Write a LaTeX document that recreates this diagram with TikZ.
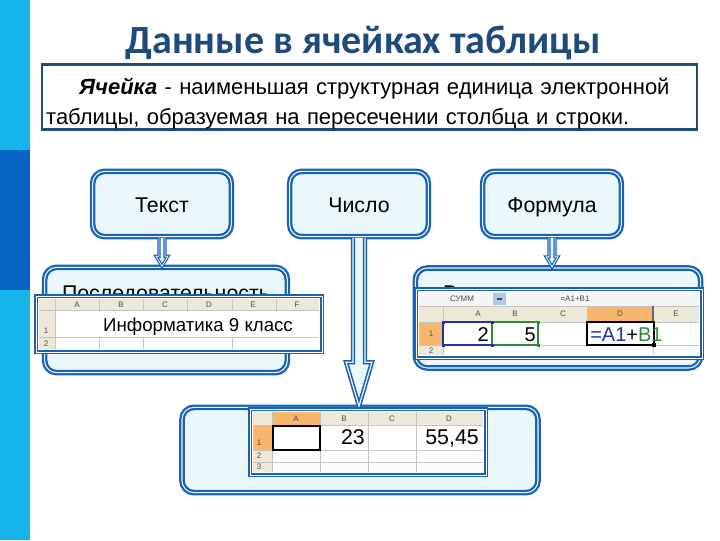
\documentclass[tikz,border=0pt]{standalone}
\usepackage{fontspec}
\setmainfont{Liberation Sans}
\newfontfamily\titlefont{Carlito}
\usetikzlibrary{calc,positioning}

\definecolor{stripcyan}{HTML}{16B5E9}
\definecolor{stripdark}{HTML}{0563C1}
\definecolor{titleblue}{HTML}{1F4A7C}
\definecolor{boxblue}{HTML}{1862B6}
\definecolor{boxfill}{HTML}{EAF8FC}
\definecolor{hdrbeige}{HTML}{ECE9D8}
\definecolor{hdrorange}{HTML}{F8B66C}
\definecolor{gridgray}{HTML}{C4C4C4}
\definecolor{selgreen}{HTML}{2E8B3A}
\definecolor{refblue}{HTML}{2432A8}

\begin{document}
\begin{tikzpicture}[x=0.75pt,y=-0.75pt,
  kind/.style={draw=boxblue,fill=boxfill,line width=1.7pt,double=boxfill,double distance=0.8pt,
    rounded corners=9pt,minimum width=104pt,minimum height=49pt,align=center,
    font=\fontsize{16}{19}\selectfont},
  topkind/.style={kind,text height=13pt,text depth=1pt},
  defbox/.style={draw=titleblue,fill=white,line width=1.9pt,minimum width=491pt,minimum height=49pt},
  deftext/.style={text width=472pt,inner sep=0pt,font=\fontsize{16.5}{22}\selectfont},
  pointer/.style={draw=boxblue,fill=boxfill,line width=0.9pt,double=boxfill,double distance=0.6pt},
  shot/.style={draw=boxblue,fill=white,line width=1.4pt,double=white,double distance=0.6pt},
  gline/.style={gridgray,line width=0.4pt},
  hdr/.style={font=\fontsize{6}{7}\selectfont,text=black!70,inner sep=0pt},
  cell/.style={font=\fontsize{15}{18}\selectfont,inner sep=0pt}]
\useasboundingbox (0,0) rectangle (720,540);
\fill[white] (0,0) rectangle (720,540);
\fill[stripcyan] (0,0) rectangle (30,540);
\fill[stripdark] (0,150) rectangle (30,290);

\node[font=\titlefont\bfseries\fontsize{30}{34}\selectfont,text=titleblue] (title) at (363,43) {Данные в ячейках таблицы};

\node[defbox] (defn) at (369.5,97) {};
\node[deftext,anchor=north west] (deftxt) at ($(defn.north west)+(5,15)$)
  {\hspace*{1.5em}\textbf{\textit{Ячейка}} - наименьшая структурная единица электронной\linebreak таблицы, образуемая на пересечении столбца и строки.};

\node[topkind] (tekst) at (162,204) {Текст};
\node[topkind] (chislo) at (359,204) {Число};
\node[topkind] (formula) at (552,204) {Формула};

\node[kind,minimum width=182pt,minimum height=79pt] (seq) at (166,320) {Последовательность\\[21pt]символов};
\node[kind,minimum width=214pt,minimum height=75pt] (expr) at (558,318) {};
\node[font=\fontsize{16}{19}\selectfont] (exprtxt) at ($(expr.north)+(0,28)$) {Выражение, задающее};
\node[kind,minimum width=267pt,minimum height=64pt] (numbox) at (360,450) {};

% arrows
\coordinate (tiptekst) at (tekst.south |- seq.north);
\draw[pointer] ($(tekst.south)+(-3,0)$) -- ($(tiptekst)+(-3,-10)$) -- ($(tiptekst)+(-6,-10)$) -- (tiptekst)
  -- ($(tiptekst)+(6,-10)$) -- ($(tiptekst)+(3,-10)$) -- ($(tekst.south)+(3,0)$);
\coordinate (tipformula) at (formula.south |- expr.north);
\draw[pointer] ($(formula.south)+(-3,0)$) -- ($(tipformula)+(-3,-10)$) -- ($(tipformula)+(-6,-10)$) -- (tipformula)
  -- ($(tipformula)+(6,-10)$) -- ($(tipformula)+(3,-10)$) -- ($(formula.south)+(3,0)$);
\coordinate (tipchislo) at (chislo.south |- numbox.north);
\draw[pointer,line width=1.2pt,double distance=0.9pt] ($(chislo.south)+(-6,0)$) -- ($(tipchislo)+(-6,-44)$) -- ($(tipchislo)+(-13,-44)$) -- (tipchislo)
  -- ($(tipchislo)+(13,-44)$) -- ($(tipchislo)+(6,-44)$) -- ($(chislo.south)+(6,0)$);

% text cell
\draw[shot] (36,296) rectangle (322,352);
\fill[hdrbeige] (39,299) rectangle (319,310);
\fill[hdrbeige] (39,310) rectangle (55,349);
\foreach \x in {99,143,187,232,276} \draw[gline] (\x,299) -- (\x,310);
\foreach \x in {99,143,232} \draw[gline] (\x,337) -- (\x,349);
\draw[gline] (55,299) -- (55,349) (39,310) -- (319,310) (39,337) -- (319,337);
\foreach \c [count=\i] in {A,B,C,D,E,F} \node[hdr] (lh\c) at (33+44*\i,305) {\c};
\node[hdr] (lrow1) at (46,331) {1};
\node[hdr] (lrow2) at (46,344) {2};
\node[cell,font=\fontsize{14}{17}\selectfont,anchor=base] (txtcell) at (198,331) {Информатика 9 класс};

% formula cell
\draw[shot] (416,289) rectangle (702,358);
\fill[black!4] (419,292) rectangle (699,306);
\fill[boxblue!35] (493,293) rectangle (506,305);
\draw[black!70,line width=1pt] (497,299) -- (502,299);
\node[hdr] (namebox) at (462,299) {СУММ};
\node[hdr] (fbar) at (575,299) {=A1+B1};
\fill[hdrbeige] (419,306) rectangle (699,322);
\fill[hdrorange] (587,306) rectangle (653,322);
\fill[hdrbeige] (419,322) rectangle (443,355);
\fill[hdrorange] (419,322) rectangle (443,345);
\foreach \x in {443,653} \draw[gline] (\x,306) -- (\x,355);
\draw[gline] (419,306) -- (699,306) (419,322) -- (699,322) (419,345) -- (699,345);
\draw[black!60,line width=0.8pt] (653,306) -- (653,322);
\foreach \c/\x in {A/478,B/515,C/563,D/620,E/676} \node[hdr] (rh\c) at (\x,314) {\c};
\node[hdr] (rrow1) at (431,334) {1};
\node[hdr] (rrow2) at (431,351) {2};
\node[cell,anchor=base east] (vala) at (489,341) {2};
\node[cell,anchor=base east] (valb) at (536,341) {5};
\draw[refblue,line width=0.8pt] (443,322) rectangle (492,345);
\draw[selgreen,line width=0.8pt] (492,322) rectangle (538,345);
\foreach \x/\y in {443/322,492/322,443/345,492/345} \fill[refblue] (\x-1.5,\y-1.5) rectangle ++(3,3);
\foreach \x/\y in {538/322,538/345} \fill[selgreen] (\x-1.5,\y-1.5) rectangle ++(3,3);
\draw[black,line width=0.8pt] (587,322) rectangle (654,345);
\fill (652,343) rectangle ++(4,4);
\node[cell,anchor=base west] (formcell) at (590,341) {\textcolor{refblue}{=A1}+\textcolor{selgreen}{B1}};

% number cells
\draw[shot] (250,409) rectangle (486,475);
\fill[hdrbeige] (253,412) rectangle (483,425);
\fill[hdrorange] (272,412) rectangle (320,425);
\fill[hdrbeige] (253,425) rectangle (272,472);
\fill[hdrorange] (253,425) rectangle (272,450);
\foreach \x in {272,320,368,416} \draw[gline] (\x,412) -- (\x,472);
\draw[gline] (253,425) -- (483,425) (253,450) -- (483,450) (253,462) -- (483,462);
\foreach \c/\x in {A/296,B/344,C/392,D/449} \node[hdr] (bh\c) at (\x,419) {\c};
\node[hdr] (brow1) at (259,443) {1};
\node[hdr] (brow2) at (259,456) {2};
\node[hdr] (brow3) at (259,467) {3};
\draw[black,line width=1.4pt] (273,426) rectangle (320,450);
\node[cell,font=\fontsize{16}{19}\selectfont,anchor=base east] (numb) at (365,444) {23};
\node[cell,font=\fontsize{16}{19}\selectfont,anchor=base east] (numd) at (479,444) {55,45};
\end{tikzpicture}
\end{document}
